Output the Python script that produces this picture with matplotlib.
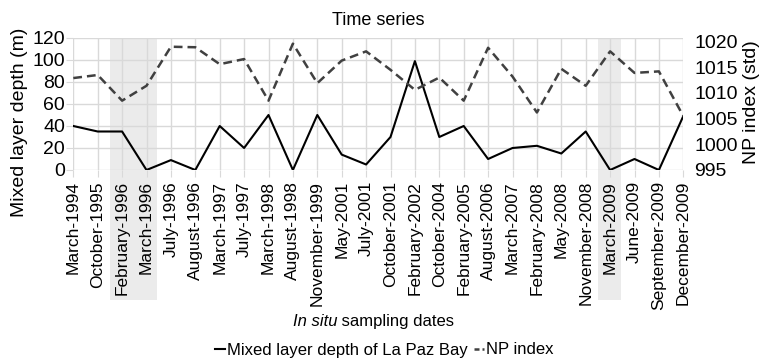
import matplotlib
matplotlib.use("Agg")
import matplotlib.pyplot as plt
import matplotlib.transforms as mtransforms
from matplotlib.patches import Rectangle
from matplotlib.lines import Line2D
import numpy as np

plt.rcParams['font.family'] = ['Liberation Sans', 'DejaVu Sans']

# sampling dates (categories)
dates = ["March-1994", "October-1995", "February-1996", "March-1996", "July-1996",
         "August-1996", "March-1997", "July-1997", "March-1998", "August-1998",
         "November-1999", "May-2001", "July-2001", "October-2001", "February-2002",
         "October-2004", "February-2005", "August-2006", "March-2007", "February-2008",
         "May-2008", "November-2008", "March-2009", "June-2009", "September-2009",
         "December-2009"]

# mixed layer depth (m)
mld = [40, 35, 35, 0, 9, 0, 40, 20, 50, 0,
       50, 14, 5, 30, 99, 30, 40, 10, 20, 22,
       15, 35, 0, 10, 0, 49]

# NP index (std)
np_index = [1012.9, 1013.5, 1008.5, 1011.4, 1019.0, 1018.9, 1015.6, 1016.6, 1008.5, 1019.6,
            1011.9, 1016.3, 1018.1, 1014.5, 1010.6, 1013.0, 1008.5, 1018.8, 1013.2, 1006.2,
            1014.7, 1011.4, 1018.1, 1013.9, 1014.2, 1005.5]

# shaded periods (category index ranges)
shade_spans = [(1.5, 3.45), (21.5, 22.45)]

left_ticks = [0, 20, 40, 60, 80, 100, 120]
right_ticks = [995, 1000, 1005, 1010, 1015, 1020]

x = np.arange(len(dates))

fig = plt.figure(figsize=(7.63, 3.61), dpi=100)
ax = fig.add_axes([73.3 / 763, 1 - 170 / 361, 610 / 763, 132 / 361])
ax2 = ax.twinx()

for s in ax.spines.values():
    s.set_visible(False)
for s in ax2.spines.values():
    s.set_visible(False)

# gray bands, also running down behind the date labels
trans = mtransforms.blended_transform_factory(ax.transData, ax.transAxes)
for a, b in shade_spans:
    ax.add_patch(Rectangle((a, -0.985), b - a, 1.985, transform=trans,
                           facecolor='#ebebeb', edgecolor='none', clip_on=False, zorder=0.1))

ax.set_axisbelow(True)
ax.grid(True, color='#d9d9d9', linewidth=1.0)

ax.plot(x, mld, color='black', linewidth=1.5, zorder=3)
ax2.plot(x, np_index, color='#404040', linewidth=1.8, linestyle=(0, (3.5, 2)))

ax.set_xlim(0, len(dates) - 1)
ax.set_ylim(0, 120)
ax.set_yticks(left_ticks)
ax2.set_ylim(995, 1020.7)
ax2.set_yticks(right_ticks)

ax.set_xticks(x)
ax.set_xticklabels(dates, rotation=90, fontsize=12.5)
ax.tick_params(axis='x', length=5, color='#d9d9d9', pad=3)
ax.tick_params(axis='y', length=5, color='#d9d9d9', pad=1, labelsize=14)
ax2.tick_params(axis='y', length=0, pad=8, labelsize=14)

fig.text(20 / 763, 1 - 122 / 361, 'Mixed layer depth (m)', rotation=90,
         ha='center', va='center', fontsize=14)
fig.text(752 / 763, 1 - 102 / 361, 'NP index (std)', rotation=90,
         ha='center', va='center', fontsize=14)

ax.text(0.5, 1.136, 'Time series', transform=ax.transAxes, ha='center', va='center', fontsize=13)

# x axis title, partly italic
ax.text(0.4323, -1.144, 'In situ', transform=ax.transAxes, ha='right', va='center',
        fontsize=12, style='italic')
ax.text(0.4323, -1.144, ' sampling dates', transform=ax.transAxes, ha='left', va='center',
        fontsize=12)

handles = [Line2D([], [], color='black', linewidth=1.5),
           Line2D([], [], color='#404040', linewidth=1.8, linestyle=(0, (2, 1.2)))]
labels = ['Mixed layer depth of La Paz Bay', 'NP index']
fig.legend(handles, labels, loc='center', bbox_to_anchor=(384 / 763, 1 - 350 / 361),
           ncol=2, frameon=False, handlelength=0.6, handletextpad=0.1, columnspacing=0.4,
           fontsize=12)

fig.savefig('out.png', dpi=100)
